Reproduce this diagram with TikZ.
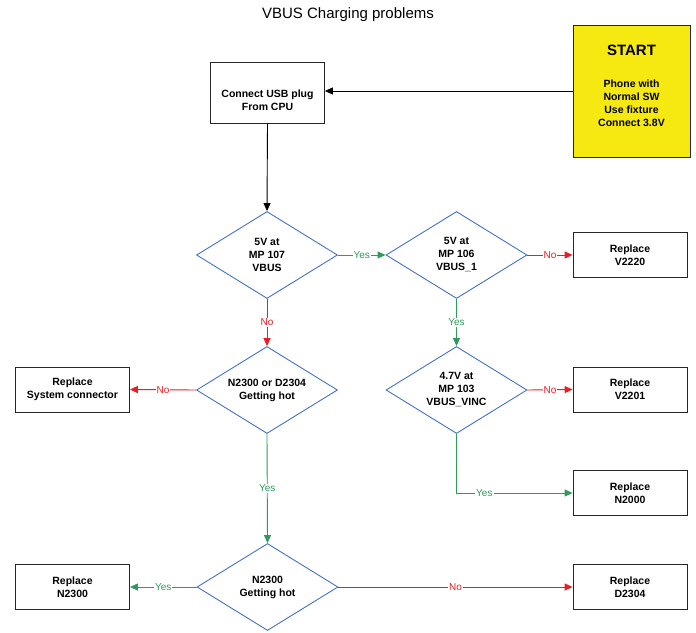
\documentclass[tikz,border=0pt]{standalone}
\usepackage{fontspec}
\setmainfont{Liberation Sans}
\usetikzlibrary{arrows.meta,shapes.geometric}
\definecolor{flowblue}{RGB}{68,114,196}
\definecolor{yesgreen}{RGB}{46,155,90}
\definecolor{nored}{RGB}{237,28,36}
\definecolor{startyellow}{RGB}{245,233,17}

\begin{document}
\begin{tikzpicture}[x=1pt, y=-1pt, >={Triangle[length=8pt,width=7pt]},
    box/.style={draw=black!85, line width=0.8pt, fill=white, minimum width=114pt,
      minimum height=45pt, align=center, font=\fontsize{10.5}{13}\selectfont\bfseries},
    check/.style={diamond, draw=flowblue, line width=0.9pt, aspect=1.63, inner sep=0pt,
      minimum width=141pt, minimum height=87pt, align=center,
      font=\fontsize{10.5}{13}\selectfont\bfseries},
    yes/.style={->, yesgreen, line width=0.9pt},
    no/.style={->, nored, line width=0.9pt},
    tag/.style={fill=white, inner sep=1pt, font=\fontsize{10}{12}\selectfont}]
    \useasboundingbox (0,0) rectangle (696,632);
    \node[font=\fontsize{15}{18}\selectfont] (title) at (348,15) {VBUS Charging problems};

    % start and first step
    \node[box, fill=startyellow, minimum width=117pt, minimum height=132pt] (start) at (631.5,91)
      {{\fontsize{15}{18}\selectfont START}\\[19pt]Phone with\\Normal SW\\Use fixture\\Connect 3.8V\\[-3pt]~};
    \node[box, minimum height=61pt] (usb) at (267.5,92.5) {~\\[11pt]Connect USB plug\\From CPU};

    % checks
    \node[check] (vbus) at (267,255) {5V at\\MP 107\\VBUS};
    \node[check] (vbusone) at (456.5,255) {5V at\\MP 106\\VBUS\_1};
    \node[check] (hot) at (267,390) {N2300 or D2304\\Getting hot};
    \node[check] (vinc) at (456.5,390) {4.7V at\\MP 103\\VBUS\_VINC};
    \node[check] (hotn) at (267.5,587) {N2300\\Getting hot};

    % replace boxes
    \node[box] (rv2220) at (630,255) {Replace\\V2220};
    \node[box] (rsys) at (72.5,389.5) {Replace\\System connector};
    \node[box] (rv2201) at (630,389.5) {Replace\\V2201};
    \node[box] (rn2000) at (630,493) {Replace\\N2000};
    \node[box] (rn2300) at (72.5,587) {Replace\\N2300};
    \node[box] (rd2304) at (630,587) {Replace\\D2304};

    \draw[->, line width=0.9pt] (start.west) -- (usb.east |- start.west);
    \draw[->, line width=0.9pt] (usb.south) -- (vbus.north);
    \draw[yes] (vbus.east) -- node[tag] {Yes} (vbusone.west);
    \draw[no] (vbusone.east) -- node[tag] {No} (rv2220.west);
    \draw[no] (vbus.south) -- node[tag] {No} (hot.north);
    \draw[yes] (vbusone.south) -- node[tag] {Yes} (vinc.north);
    \draw[no] (hot.west) -- node[tag] {No} (rsys.east);
    \draw[no] (vinc.east) -- node[tag] {No} (rv2201.west);
    \draw[yes] (vinc.south) |- node[tag, pos=0.62] {Yes} (rn2000.west);
    \draw[yes] (hot.south) -- node[tag] {Yes} (hotn.north);
    \draw[yes] (hotn.west) -- node[tag] {Yes} (rn2300.east);
    \draw[no] (hotn.east) -- node[tag] {No} (rd2304.west);
\end{tikzpicture}
\end{document}
